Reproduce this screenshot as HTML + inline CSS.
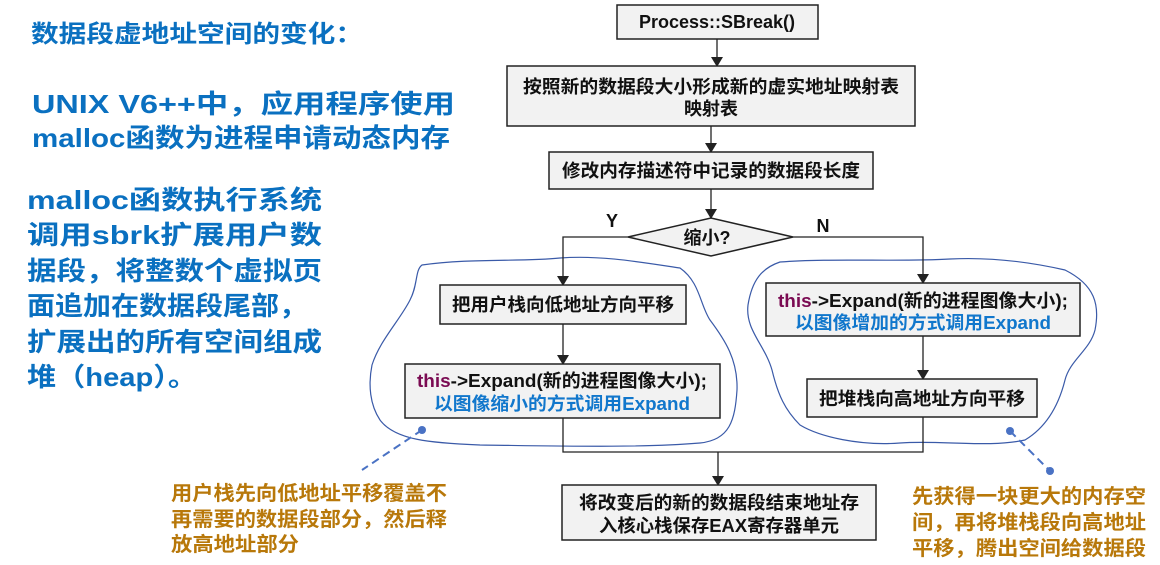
<!DOCTYPE html>
<html><head><meta charset="utf-8"><style>
html,body{margin:0;padding:0;background:#fff;}
svg{display:block;}
text{font-family:"Liberation Sans","Noto Sans CJK SC",sans-serif;font-weight:bold;}
</style></head><body>
<svg width="1160" height="565" viewBox="0 0 1160 565" xmlns="http://www.w3.org/2000/svg">
<defs><marker id="ar" markerWidth="10" markerHeight="12" refX="9" refY="6" orient="auto" markerUnits="userSpaceOnUse"><path d="M0,0 L10,6 L0,12 Z" fill="#222"/></marker></defs>
<g fill="#0a70c0">
<text x="31" y="42" font-size="24" textLength="332" lengthAdjust="spacingAndGlyphs">数据段虚地址空间的变化：</text>
<text x="32" y="113" font-size="26" textLength="423" lengthAdjust="spacingAndGlyphs">UNIX V6++中，应用程序使用</text>
<text x="32" y="147" font-size="26" textLength="418" lengthAdjust="spacingAndGlyphs">malloc函数为进程申请动态内存</text>
<text x="27" y="209" font-size="26" textLength="295" lengthAdjust="spacingAndGlyphs">malloc函数执行系统</text>
<text x="27" y="244" font-size="26" textLength="295" lengthAdjust="spacingAndGlyphs">调用sbrk扩展用户数</text>
<text x="27" y="280" font-size="26" textLength="295" lengthAdjust="spacingAndGlyphs">据段，将整数个虚拟页</text>
<text x="27" y="315" font-size="26" textLength="280" lengthAdjust="spacingAndGlyphs">面追加在数据段尾部，</text>
<text x="27" y="351" font-size="26" textLength="295" lengthAdjust="spacingAndGlyphs">扩展出的所有空间组成</text>
<text x="27" y="386" font-size="26" textLength="170" lengthAdjust="spacingAndGlyphs">堆（heap）。</text>
</g>
<path d="M422,265 C470,258 520,262 560,258 C600,255 640,262 680,268 C700,282 700,305 710,320 C725,340 738,360 737,390 C735,420 730,440 700,443 C640,448 560,446 480,445 C430,443 395,440 380,420 C370,405 368,385 372,365 C380,340 400,320 410,300 C418,285 415,270 422,265 Z" fill="none" stroke="#3a5aa8" stroke-width="1.2"/>
<path d="M780,262 C830,258 900,262 950,259 C990,257 1030,262 1065,270 C1095,285 1100,305 1095,330 C1090,350 1070,360 1065,380 C1060,400 1050,425 1025,440 C990,448 940,440 900,443 C860,446 820,437 800,425 C785,410 778,395 772,370 C765,345 745,330 748,305 C752,280 762,268 780,262 Z" fill="none" stroke="#3a5aa8" stroke-width="1.2"/>
<line x1="422" y1="430" x2="362" y2="470" stroke="#4a72c4" stroke-width="2" stroke-dasharray="8,5"/>
<circle cx="422" cy="430" r="4" fill="#4a72c4"/>
<line x1="1010" y1="431" x2="1050" y2="471" stroke="#4a72c4" stroke-width="2" stroke-dasharray="8,5"/>
<circle cx="1010" cy="431" r="4" fill="#4a72c4"/><circle cx="1050" cy="471" r="4" fill="#4a72c4"/>
<g stroke="#222" stroke-width="1.3" fill="none">
<line x1="717" y1="39" x2="717" y2="66" marker-end="url(#ar)"/>
<line x1="711" y1="126" x2="711" y2="152" marker-end="url(#ar)"/>
<line x1="711" y1="189" x2="711" y2="218" marker-end="url(#ar)"/>
<polyline points="628,237 563,237 563,285" marker-end="url(#ar)"/>
<polyline points="793,237 923,237 923,283" marker-end="url(#ar)"/>
<line x1="563" y1="324" x2="563" y2="364" marker-end="url(#ar)"/>
<line x1="923" y1="336" x2="923" y2="379" marker-end="url(#ar)"/>
<polyline points="563,418 563,452 923,452 923,417"/>
<line x1="718" y1="452" x2="718" y2="485" marker-end="url(#ar)"/>
</g>
<g fill="#f2f2f2" stroke="#222" stroke-width="1.5">
<rect x="617" y="5" width="201" height="34"/>
<rect x="507" y="66" width="408" height="60"/>
<rect x="549" y="152" width="324" height="37"/>
<polygon points="628,237 711,218 793,237 711,256"/>
<rect x="440" y="285" width="246" height="39"/>
<rect x="405" y="364" width="315" height="54"/>
<rect x="766" y="283" width="314" height="53"/>
<rect x="807" y="379" width="230" height="38"/>
<rect x="562" y="485" width="314" height="55"/>
</g>
<g fill="#111" font-size="18">
<text x="717" y="28" text-anchor="middle">Process::SBreak()</text>
<text x="711" y="93" text-anchor="middle" textLength="376" lengthAdjust="spacingAndGlyphs">按照新的数据段大小形成新的虚实地址映射表</text>
<text x="711" y="115" text-anchor="middle">映射表</text>
<text x="711" y="177" text-anchor="middle" textLength="298" lengthAdjust="spacingAndGlyphs">修改内存描述符中记录的数据段长度</text>
<text x="707" y="244" text-anchor="middle">缩小?</text>
<text x="612" y="227" text-anchor="middle">Y</text>
<text x="823" y="232" text-anchor="middle">N</text>
<text x="563" y="311" text-anchor="middle" textLength="222" lengthAdjust="spacingAndGlyphs">把用户栈向低地址方向平移</text>
<text x="562" y="387" text-anchor="middle" textLength="290" lengthAdjust="spacingAndGlyphs"><tspan fill="#7a0a52">this</tspan>-&gt;Expand(新的进程图像大小);</text>
<text x="562" y="410" text-anchor="middle" fill="#1177cc" textLength="256" lengthAdjust="spacingAndGlyphs">以图像缩小的方式调用Expand</text>
<text x="923" y="307" text-anchor="middle" textLength="290" lengthAdjust="spacingAndGlyphs"><tspan fill="#7a0a52">this</tspan>-&gt;Expand(新的进程图像大小);</text>
<text x="923" y="329" text-anchor="middle" fill="#1177cc" textLength="256" lengthAdjust="spacingAndGlyphs">以图像增加的方式调用Expand</text>
<text x="922" y="405" text-anchor="middle" textLength="206" lengthAdjust="spacingAndGlyphs">把堆栈向高地址方向平移</text>
<text x="719" y="509" text-anchor="middle" textLength="280" lengthAdjust="spacingAndGlyphs">将改变后的新的数据段结束地址存</text>
<text x="719" y="532" text-anchor="middle" textLength="240" lengthAdjust="spacingAndGlyphs">入核心栈保存EAX寄存器单元</text>
</g>
<g fill="#b8780a" font-size="20">
<text x="171" y="500" textLength="276" lengthAdjust="spacingAndGlyphs">用户栈先向低地址平移覆盖不</text>
<text x="171" y="526" textLength="276" lengthAdjust="spacingAndGlyphs">再需要的数据段部分，然后释</text>
<text x="171" y="551" textLength="128" lengthAdjust="spacingAndGlyphs">放高地址部分</text>
<text x="912" y="503" textLength="234" lengthAdjust="spacingAndGlyphs">先获得一块更大的内存空</text>
<text x="912" y="529" textLength="234" lengthAdjust="spacingAndGlyphs">间，再将堆栈段向高地址</text>
<text x="912" y="555" textLength="234" lengthAdjust="spacingAndGlyphs">平移，腾出空间给数据段</text>
</g>
</svg>
</body></html>
